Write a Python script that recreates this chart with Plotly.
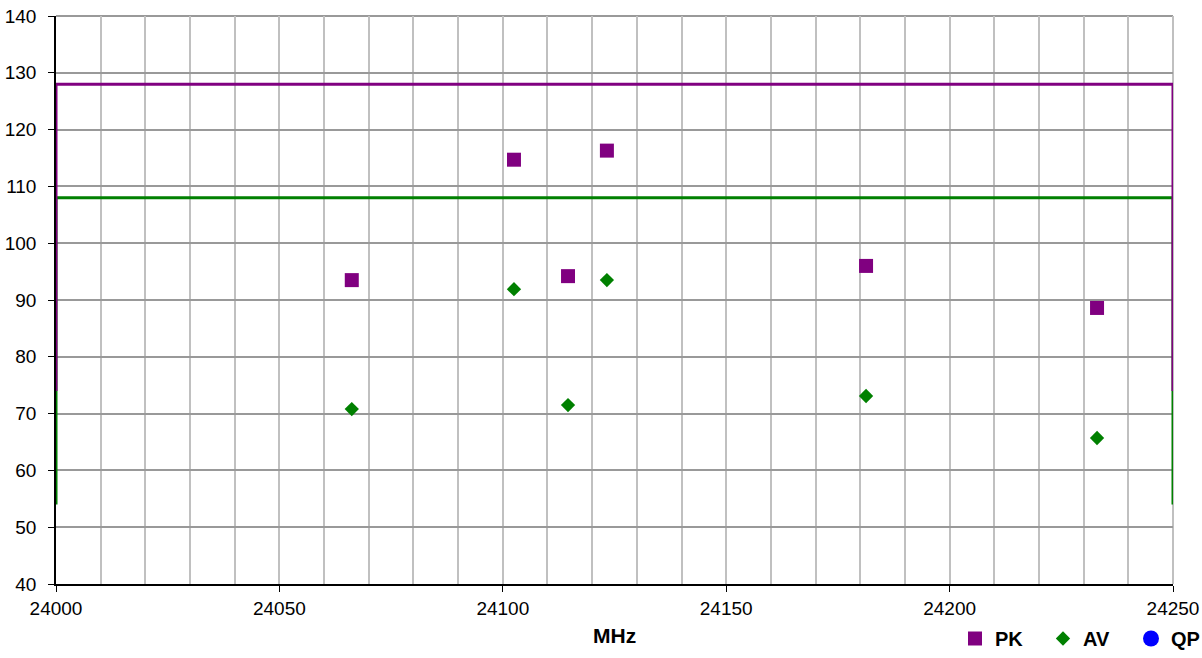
import plotly.graph_objects as go

# Data
pk_freq = [24066.2, 24102.5, 24114.6, 24123.3, 24181.3, 24233.0]
pk_level = [93.5, 114.7, 94.2, 116.3, 96.0, 88.6]
av_freq = [24066.2, 24102.5, 24114.6, 24123.3, 24181.3, 24233.0]
av_level = [70.8, 91.9, 71.5, 93.5, 73.1, 65.7]

pk_limit_freq = [24000, 24000, 24250, 24250]
pk_limit_level = [74, 128, 128, 74]
av_limit_freq = [24000, 24000, 24250, 24250]
av_limit_level = [54, 108, 108, 54]

x_ticks = [24000, 24050, 24100, 24150, 24200, 24250]
x_tick_labels = ["24000", "24050", "24100", "24150", "24200", "24250"]
y_ticks = [40, 50, 60, 70, 80, 90, 100, 110, 120, 130, 140]

PURPLE = "#800080"
GREEN = "#008000"
FONT = "Arial, Liberation Sans, sans-serif"

fig = go.Figure()
fig.add_trace(go.Scatter(x=av_limit_freq, y=av_limit_level, mode="lines",
                         line=dict(color=GREEN, width=3), showlegend=False, hoverinfo="skip"))
fig.add_trace(go.Scatter(x=pk_limit_freq, y=pk_limit_level, mode="lines",
                         line=dict(color=PURPLE, width=3), showlegend=False, hoverinfo="skip"))
fig.add_trace(go.Scatter(x=pk_freq, y=pk_level, mode="markers", name="PK",
                         marker=dict(symbol="square", color=PURPLE, size=14)))
fig.add_trace(go.Scatter(x=av_freq, y=av_level, mode="markers", name="AV",
                         marker=dict(symbol="diamond", color=GREEN, size=11)))
fig.add_trace(go.Scatter(x=[None], y=[None], mode="markers", name="QP",
                         marker=dict(symbol="circle", color="#0000FF", size=16)))

fig.update_layout(
    width=1202, height=658,
    margin=dict(l=56, r=29, t=16, b=74, autoexpand=False),
    plot_bgcolor="white", paper_bgcolor="white",
    font=dict(family=FONT, size=19, color="black"),
    legend=dict(orientation="h", xref="container", yref="container",
                x=955 / 1202, xanchor="left", y=0, yanchor="bottom",
                font=dict(size=20, family=FONT, weight="bold"),
                itemwidth=30, bgcolor="rgba(0,0,0,0)",
                entrywidthmode="pixels", entrywidth=43),
    annotations=[dict(text="<b>MHz</b>", x=0.5, xref="paper", y=(584 - 635.5) / 568,
                      yref="paper", yanchor="middle", xanchor="center", showarrow=False,
                      font=dict(size=21, family=FONT))],
)
fig.update_xaxes(
    range=[24000, 24250], tickvals=x_ticks, ticktext=x_tick_labels,
    showgrid=True, gridcolor="#c0c0c0", gridwidth=1.5,
    minor=dict(dtick=10, showgrid=True, gridcolor="#c0c0c0", gridwidth=1.5),
    showline=True, linecolor="black", linewidth=1.5, mirror=False,
    ticks="outside", ticklen=6, tickcolor="black",
    zeroline=False, automargin=False,
)
fig.update_yaxes(
    range=[40, 140], tickvals=y_ticks,
    showgrid=True, gridcolor="#999999", gridwidth=1.5,
    showline=True, linecolor="black", linewidth=1.5,
    ticks="outside", ticklen=6, tickcolor="black", ticklabelstandoff=8,
    zeroline=False, automargin=False,
)
# top/right border
fig.add_shape(type="line", xref="paper", yref="paper", x0=0, x1=1, y0=1, y1=1,
              line=dict(color="#999999", width=2), layer="below")
fig.add_shape(type="line", xref="paper", yref="paper", x0=1, x1=1, y0=0, y1=1,
              line=dict(color="#c0c0c0", width=2), layer="below")

fig.write_html("out.html")
